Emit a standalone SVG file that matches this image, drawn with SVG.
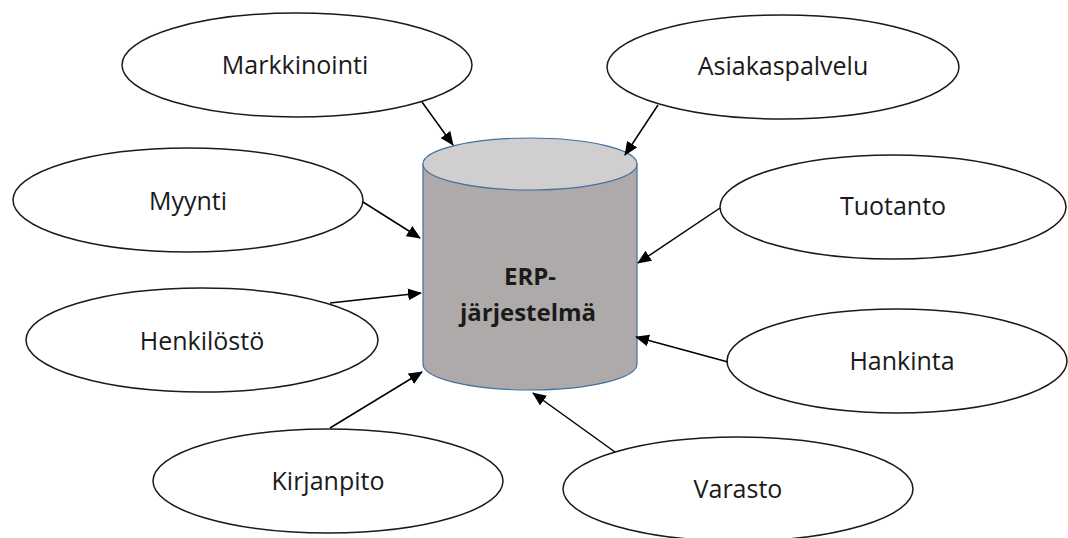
<svg xmlns="http://www.w3.org/2000/svg" width="1068" height="538" viewBox="0 0 1068 538">
  <style>
    .node ellipse { fill: #ffffff; stroke: #1a1a1a; stroke-width: 1.5; }
    .label { font-family: "Open Sans", "Liberation Sans", sans-serif; font-size: 25px; fill: #1a1a1a; text-anchor: middle; }
    .db-label { font-family: "Open Sans", "Liberation Sans", sans-serif; font-size: 24px; font-weight: bold; fill: #1a1a1a; text-anchor: middle; }
    .edge { stroke: #000000; stroke-width: 1.5; fill: none; marker-end: url(#arrow); }
  </style>
  <defs>
    <marker id="arrow" markerUnits="userSpaceOnUse" markerWidth="14" markerHeight="12" refX="13" refY="6" orient="auto">
      <path d="M0,0 L14,6 L0,12 Z" fill="#000000"/>
    </marker>
  </defs>

  <rect width="1068" height="538" fill="#ffffff"/>

  <!-- central database cylinder -->
  <g id="erp">
    <path d="M423,164 L423,364 A107,26 0 0 0 637,364 L637,164 Z" fill="#aeaaaa" stroke="#41719c" stroke-width="1.2"/>
    <ellipse cx="530" cy="164" rx="107" ry="26" fill="#d0cece" stroke="#41719c" stroke-width="1.2"/>
    <text class="db-label" x="530" y="285">ERP-</text>
    <text class="db-label" x="528" y="321">järjestelmä</text>
  </g>

  <!-- surrounding function nodes -->
  <g id="markkinointi" class="node">
    <ellipse cx="297" cy="65" rx="175" ry="52"/>
    <text class="label" x="295" y="74">Markkinointi</text>
  </g>
  <g id="asiakaspalvelu" class="node">
    <ellipse cx="783" cy="67" rx="176" ry="52"/>
    <text class="label" x="783" y="75">Asiakaspalvelu</text>
  </g>
  <g id="myynti" class="node">
    <ellipse cx="188" cy="200" rx="175" ry="52"/>
    <text class="label" x="188" y="210">Myynti</text>
  </g>
  <g id="tuotanto" class="node">
    <ellipse cx="893" cy="207" rx="173" ry="52"/>
    <text class="label" x="893" y="215">Tuotanto</text>
  </g>
  <g id="henkilosto" class="node">
    <ellipse cx="202" cy="340" rx="176" ry="52"/>
    <text class="label" x="202" y="350">Henkilöstö</text>
  </g>
  <g id="hankinta" class="node">
    <ellipse cx="897" cy="361" rx="170" ry="52"/>
    <text class="label" x="902" y="370">Hankinta</text>
  </g>
  <g id="kirjanpito" class="node">
    <ellipse cx="328" cy="481" rx="175" ry="52"/>
    <text class="label" x="328" y="490">Kirjanpito</text>
  </g>
  <g id="varasto" class="node">
    <ellipse cx="738" cy="489" rx="175" ry="52"/>
    <text class="label" x="738" y="498">Varasto</text>
  </g>

  <!-- connectors into the database -->
  <g id="connectors">
    <line class="edge" x1="422" y1="102" x2="453" y2="145"/>
    <line class="edge" x1="658" y1="105" x2="625" y2="155"/>
    <line class="edge" x1="363" y1="202" x2="420" y2="238"/>
    <line class="edge" x1="720" y1="208" x2="638" y2="263"/>
    <line class="edge" x1="330" y1="303" x2="421" y2="293"/>
    <line class="edge" x1="728" y1="362" x2="636" y2="337"/>
    <line class="edge" x1="330" y1="428" x2="422" y2="372"/>
    <line class="edge" x1="615" y1="452" x2="533" y2="393"/>
  </g>
</svg>
